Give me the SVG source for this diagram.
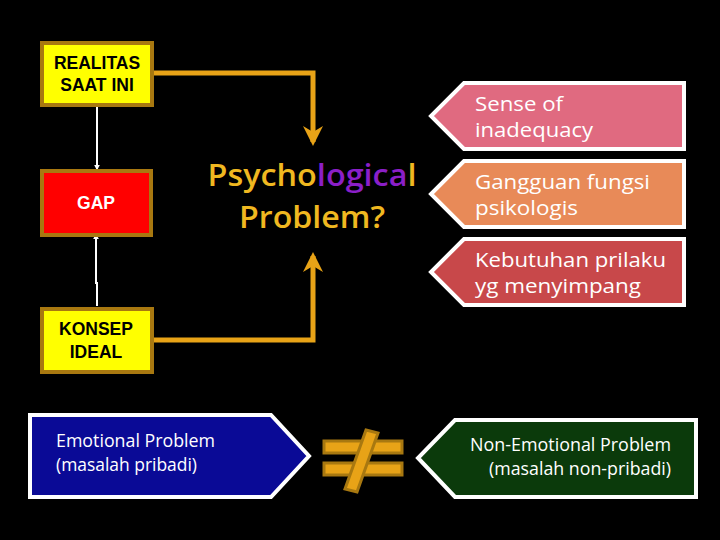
<svg xmlns="http://www.w3.org/2000/svg" width="720" height="540" viewBox="0 0 720 540">
<defs>
<style>
.box{stroke:#A87810;stroke-width:4}
.bt{font-family:"Liberation Sans",Arial,sans-serif;font-weight:bold;font-size:17.5px;text-anchor:middle}
.conn{fill:none;stroke:#E8A317;stroke-width:5}
.wl{fill:none;stroke:#FFFFFF;stroke-width:2}
.tag{stroke:#FFFFFF;stroke-width:4}
.tt{font-family:"Open Sans","Noto Sans",sans-serif;font-size:20px;fill:#FFFFFF}
.bot{font-family:"Open Sans","Noto Sans",sans-serif;font-size:18px;fill:#FFFFFF}
</style>
<marker id="ah" viewBox="0 0 10 10" refX="8" refY="5" markerWidth="4" markerHeight="4" orient="auto" markerUnits="strokeWidth">
<path d="M0,0 L10,5 L0,10 L3,5 Z" fill="#E8A317"/>
</marker>
<marker id="wh" viewBox="0 0 10 10" refX="9" refY="5" markerWidth="3" markerHeight="3" orient="auto" markerUnits="strokeWidth">
<path d="M0,0 L10,5 L0,10 Z" fill="#FFFFFF"/>
</marker>
</defs>
<rect width="720" height="540" fill="#000000"/>

<g id="connectors">
<path class="conn" d="M153,73 H313 V142" marker-end="url(#ah)"/>
<path class="conn" d="M153,340 H313 V256" marker-end="url(#ah)"/>
<path class="wl" d="M97,107 V170" marker-end="url(#wh)"/>
<path class="wl" d="M97,306 V283 H96 V234" marker-end="url(#wh)"/>
</g>

<g id="realitas">
<rect class="box" x="42" y="43" width="110" height="62" fill="#FFFF00"/>
<text class="bt" x="97" y="69">REALITAS</text>
<text class="bt" x="97" y="91">SAAT INI</text>
</g>
<g id="gap">
<rect class="box" x="42" y="171" width="109" height="64" fill="#FF0000"/>
<text class="bt" x="96" y="209" fill="#FFFFFF">GAP</text>
</g>
<g id="konsep">
<rect class="box" x="42" y="309" width="110" height="63" fill="#FFFF00"/>
<text class="bt" x="96" y="335">KONSEP</text>
<text class="bt" x="96" y="358">IDEAL</text>
</g>

<g id="psych">
<text font-family="Open Sans,Noto Sans,sans-serif" font-size="31" font-weight="600" text-anchor="middle" fill="#F0B820"><tspan x="312" y="186" textLength="209" lengthAdjust="spacingAndGlyphs">Psycho<tspan fill="#8B1FC8">logica</tspan>l</tspan><tspan x="312" y="228" textLength="146" lengthAdjust="spacingAndGlyphs">Problem?</tspan></text>
</g>

<g id="sense">
<path class="tag" d="M464,83 H684 V149 H464 L431,116 Z" fill="#E06A80"/>
<text class="tt" x="475" y="111" textLength="88" lengthAdjust="spacingAndGlyphs">Sense of</text>
<text class="tt" x="475" y="137" textLength="118" lengthAdjust="spacingAndGlyphs">inadequacy</text>
</g>
<g id="gangguan">
<path class="tag" d="M464,161 H684 V227 H464 L431,194 Z" fill="#E88A58"/>
<text class="tt" x="475" y="189" textLength="175" lengthAdjust="spacingAndGlyphs">Gangguan fungsi</text>
<text class="tt" x="475" y="215" textLength="103" lengthAdjust="spacingAndGlyphs">psikologis</text>
</g>
<g id="kebutuhan">
<path class="tag" d="M464,239 H684 V305 H464 L431,272 Z" fill="#C8484A"/>
<text class="tt" x="475" y="267" textLength="191" lengthAdjust="spacingAndGlyphs">Kebutuhan prilaku</text>
<text class="tt" x="475" y="293" textLength="166" lengthAdjust="spacingAndGlyphs">yg menyimpang</text>
</g>

<g id="emotional">
<path class="tag" d="M30,415 H271 L309,456 L271,497 H30 Z" fill="#0A0A96"/>
<text class="bot" x="56" y="447" textLength="159" lengthAdjust="spacingAndGlyphs">Emotional Problem</text>
<text class="bot" x="56" y="471" font-size="16" textLength="141" lengthAdjust="spacingAndGlyphs">(masalah pribadi)</text>
</g>

<g id="notequal">
<rect x="324" y="441" width="78" height="12" fill="#E8A317" stroke="#A87810" stroke-width="3"/>
<rect x="324" y="463" width="78" height="12" fill="#E8A317" stroke="#A87810" stroke-width="3"/>
<path d="M366,430 L378,433 L357,492 L345,489 Z" fill="#E8A317" stroke="#A87810" stroke-width="3"/>
</g>

<g id="nonemotional">
<path class="tag" d="M455,420 H696 V497 H455 L418,458 Z" fill="#0B3A0B"/>
<text class="bot" x="470" y="451" textLength="201" lengthAdjust="spacingAndGlyphs">Non-Emotional Problem</text>
<text class="bot" x="489" y="475" font-size="16" textLength="182" lengthAdjust="spacingAndGlyphs">(masalah non-pribadi)</text>
</g>
</svg>
